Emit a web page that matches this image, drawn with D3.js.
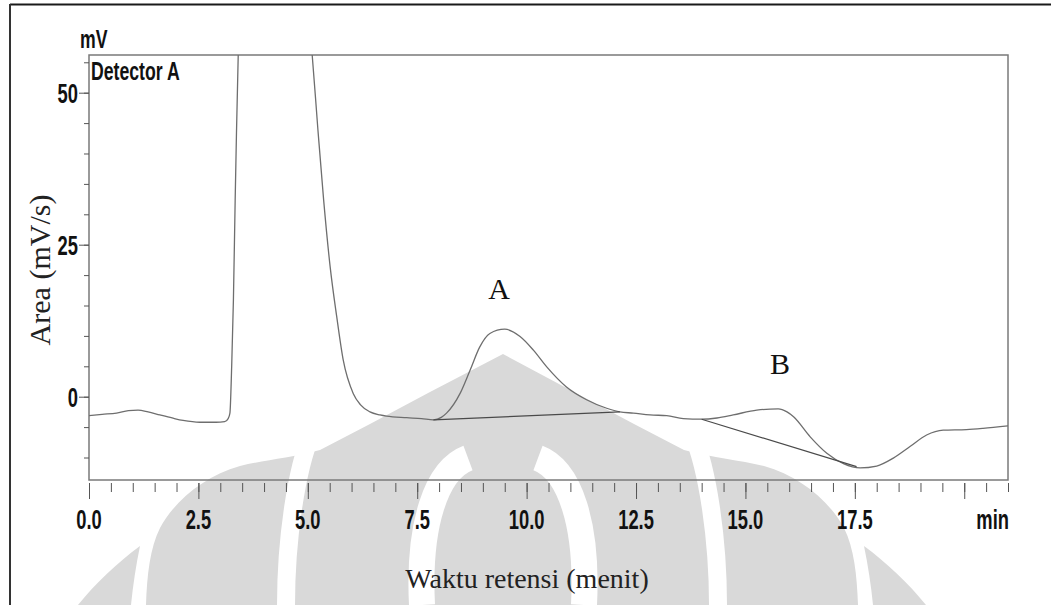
<!DOCTYPE html>
<html><head><meta charset="utf-8">
<script src="https://cdn.jsdelivr.net/npm/d3@7"></script>
<style>html,body{margin:0;padding:0;background:#fff;overflow:hidden}</style>
</head><body><svg id="c" width="1051" height="605"></svg>
<script>
// ---- data ----
const retentionTime = [0.0,0.3,0.63,0.9,1.12,1.35,1.62,1.9,2.15,2.53,2.9,3.1,3.18,3.22,3.26,3.30,3.34,3.37,3.41,3.5,4.2,4.95,5.10,5.23,5.36,5.51,5.66,5.81,6.04,6.2,6.42,6.65,6.80,7.26,7.6,7.87,8.05,8.17,8.48,8.71,8.93,9.16,9.50,9.85,10.15,10.46,10.91,11.37,11.83,12.13,12.44,12.82,13.2,13.58,14.0,14.35,14.72,15.26,15.75,15.95,16.1,16.48,16.86,17.24,17.62,18.0,18.38,18.76,19.14,19.52,20.05,20.43,21.0];
const signalMV = [-3.1,-2.9,-2.7,-2.3,-2.2,-2.5,-3.0,-3.5,-3.9,-4.2,-4.2,-4.1,-3.6,-2.7,4.9,15.9,32.3,43.4,56.2,75,110,67,56.2,44.0,32.5,21.4,13.2,6.0,0.5,-1.3,-2.5,-3.0,-3.2,-3.45,-3.6,-3.8,-3.4,-2.7,0.55,4.4,8.2,10.4,11.1,9.9,7.7,4.9,1.6,-0.5,-1.9,-2.5,-2.7,-3.0,-3.1,-3.6,-3.7,-3.5,-3.0,-2.2,-2.0,-2.5,-3.3,-6.6,-9.3,-11.0,-11.7,-11.4,-10.1,-8.2,-6.3,-5.5,-5.4,-5.2,-4.8];
const baselineATime = [7.87, 12.13];
const baselineAMV = [-3.8, -2.5];
const baselineBTime = [14.0, 17.54];
const baselineBMV = [-3.7, -11.5];
const xMinorTicks = d3.range(0, 21.001, 0.5);
const xMajorTicks = [0, 2.5, 5, 7.5, 10, 12.5, 15, 17.5, 20];
const xTickLabels = ["0.0","2.5","5.0","7.5","10.0","12.5","15.0","17.5",""];
const yMinorTicks = d3.range(-10, 56, 5);
const yMajorTicks = [0, 25, 50];
const yTickLabels = ["0","25","50"];
const peakNames = ["A","B"];
const peakLabelTime = [9.37, 15.79];
const peakLabelMV = [16.1, 3.7];

// ---- layout ----
const svg = d3.select("#c");
const L = 89, R = 1008, T = 55, B = 480;
const x = d3.scaleLinear().domain([0, 21]).range([L, R]);
const y = d3.scaleLinear().domain([-13.7, 56.2]).range([B, T]);
const narrow = "'Liberation Sans', Arial, sans-serif";
const serif = "'Liberation Serif', 'Times New Roman', serif";
const SX = 0.68;

svg.append("rect").attr("width",1051).attr("height",605).attr("fill","#fff");

// ---- faint background watermark ----
const wm = svg.append("g").attr("class","watermark");
const gray = "#d9d9d9";
const sil = "M503,354 L430,392 L370,424 L320,450 C290,458 265,460 240,466 C205,476 175,500 160,528 C150,548 147,575 146,605 " +
            "L858,605 C857,575 854,548 844,528 C829,500 799,476 764,466 C739,460 714,458 684,450 L634,424 L574,392 Z";
wm.append("path").attr("d", sil).attr("fill", gray);
wm.append("path").attr("d","M140,546 C118,562 94,585 78,605 L131,605 C133,585 136,565 140,546 Z").attr("fill",gray);
wm.append("path").attr("d","M864,546 C886,562 910,585 926,605 L873,605 C871,585 868,565 864,546 Z").attr("fill",gray);
const gap = (d, w) => wm.append("path").attr("d", d).attr("fill","none").attr("stroke","#fff").attr("stroke-width", w);
gap("M312,432 C296,470 286,540 286,605", 18);
gap("M692,432 C708,470 718,540 718,605", 18);
gap("M468,458 C436,470 418,525 422,605", 26);
gap("M538,458 C570,470 588,525 584,605", 26);

// ---- outer figure border (top + left) ----
svg.append("line").attr("x1",10).attr("x2",1051).attr("y1",4.5).attr("y2",4.5).attr("stroke","#1a1a1a").attr("stroke-width",2);
svg.append("line").attr("x1",10).attr("x2",10).attr("y1",4).attr("y2",605).attr("stroke","#333").attr("stroke-width",2);

// ---- plot frame ----
svg.append("rect").attr("x",L).attr("y",T).attr("width",R-L).attr("height",B-T)
  .attr("fill","none").attr("stroke","#7a7a7a").attr("stroke-width",1.5);

// ---- axes ticks ----
const styleAxis = g => { g.select(".domain").remove(); g.selectAll(".tick line").attr("stroke","#555").attr("stroke-width",1); g.selectAll("text").remove(); };
svg.append("g").attr("transform",`translate(0,483)`).call(d3.axisBottom(x).tickValues(xMinorTicks).tickSize(9).tickFormat("")).call(styleAxis);
svg.append("g").attr("transform",`translate(0,483)`).call(d3.axisBottom(x).tickValues(xMajorTicks).tickSize(16).tickFormat("")).call(styleAxis);
svg.append("g").attr("transform",`translate(${L},0)`).call(d3.axisLeft(y).tickValues(yMinorTicks).tickSize(5).tickFormat("")).call(styleAxis);
svg.append("g").attr("transform",`translate(${L},0)`).call(d3.axisLeft(y).tickValues(yMajorTicks).tickSize(10).tickFormat("")).call(styleAxis);

// ---- tick labels ----
svg.append("g").selectAll("text").data(xMajorTicks).join("text")
  .attr("transform", d => `translate(${x(d)},529) scale(${SX},1)`)
  .attr("text-anchor","middle").attr("font-family",narrow).attr("font-weight","bold")
  .attr("font-size",27).attr("fill","#111").text((d,i) => xTickLabels[i]);
svg.append("text").attr("transform",`translate(1009,529) scale(${SX},1)`).attr("text-anchor","end")
  .attr("font-family",narrow).attr("font-weight","bold").attr("font-size",27).attr("fill","#111").text("min");
svg.append("g").selectAll("text").data(yMajorTicks).join("text")
  .attr("transform", d => `translate(78,${y(d)+10}) scale(${SX},1)`)
  .attr("text-anchor","end").attr("font-family",narrow).attr("font-weight","bold")
  .attr("font-size",27).attr("fill","#111").text((d,i) => yTickLabels[i]);
svg.append("text").attr("transform",`translate(80,48) scale(${SX},1)`)
  .attr("font-family",narrow).attr("font-weight","bold").attr("font-size",26).attr("fill","#111").text("mV");
svg.append("text").attr("transform",`translate(91,80) scale(${SX},1)`)
  .attr("font-family",narrow).attr("font-weight","bold").attr("font-size",26).attr("fill","#111").text("Detector A");

// ---- curves ----
svg.append("defs").append("clipPath").attr("id","plotclip").append("rect")
  .attr("x",L).attr("y",T).attr("width",R-L).attr("height",B-T);
const pts = retentionTime.map((t,i) => [t, signalMV[i]]);
const line = d3.line().x(d => x(d[0])).y(d => y(d[1])).curve(d3.curveMonotoneX);
const plot = svg.append("g").attr("clip-path","url(#plotclip)");
plot.append("path").datum(pts).attr("d", line).attr("fill","none").attr("stroke","#6e6e6e").attr("stroke-width",1.3);
const straight = d3.line().x(d => x(d[0])).y(d => y(d[1]));
plot.append("path").datum(baselineATime.map((t,i)=>[t,baselineAMV[i]])).attr("d", straight)
  .attr("fill","none").attr("stroke","#4a4a4a").attr("stroke-width",1.2);
plot.append("path").datum(baselineBTime.map((t,i)=>[t,baselineBMV[i]])).attr("d", straight)
  .attr("fill","none").attr("stroke","#4a4a4a").attr("stroke-width",1.2);

// ---- peak labels ----
svg.append("g").selectAll("text").data(peakNames).join("text")
  .attr("x",(d,i)=>x(peakLabelTime[i])).attr("y",(d,i)=>y(peakLabelMV[i]))
  .attr("text-anchor","middle").attr("font-family",serif).attr("font-size",30).attr("fill","#111").text(d=>d);

// ---- axis titles ----
svg.append("text").attr("x",527).attr("y",588).attr("text-anchor","middle")
  .attr("font-family",serif).attr("font-size",28).attr("fill","#222").text("Waktu retensi (menit)");
svg.append("text").attr("transform","translate(50,270) rotate(-90)").attr("text-anchor","middle")
  .attr("font-family",serif).attr("font-size",30).attr("fill","#222").text("Area (mV/s)");
</script></body></html>
